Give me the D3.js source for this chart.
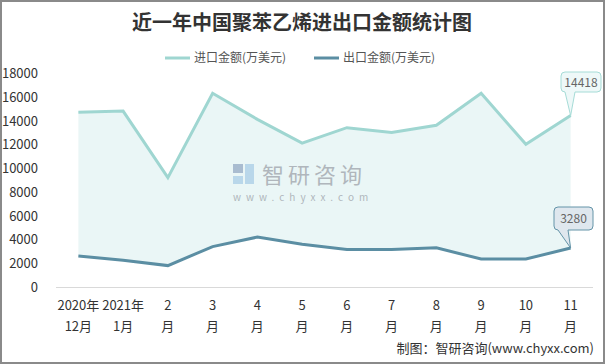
<!DOCTYPE html>
<html><head><meta charset="utf-8">
<script src="https://cdn.jsdelivr.net/npm/d3@7"></script>
<style>
html,body{margin:0;padding:0;background:#fff;}
svg{display:block;}
text{font-family:"Noto Sans CJK SC","Microsoft YaHei",sans-serif;}
</style></head>
<body>
<svg id="chart" width="605" height="364"></svg>
<script>
const catLine1 = ["2020年","2021年","2","3","4","5","6","7","8","9","10","11"];
const catLine2 = ["12月","1月","月","月","月","月","月","月","月","月","月","月"];
const importValues = [14700, 14800, 9200, 16300, 14100, 12100, 13400, 13000, 13600, 16300, 12000, 14418];
const exportValues = [2600, 2250, 1800, 3400, 4200, 3600, 3150, 3150, 3300, 2350, 2350, 3280];
const yTicks = [0,2000,4000,6000,8000,10000,12000,14000,16000,18000];
const seriesNames = ["进口金额(万美元)","出口金额(万美元)"];

const svg = d3.select("#chart");
const W = 605, H = 364;
const importColor = "#9fd6d1", exportColor = "#5b8ea3", fillColor = "#eaf6f6";

svg.append("rect").attr("x",1).attr("y",1).attr("width",W-2).attr("height",H-2)
  .attr("fill","#fff").attr("stroke","#8a8a8a").attr("stroke-width",2);

svg.append("text").attr("x",302).attr("y",30).attr("text-anchor","middle")
  .attr("font-size",20).attr("font-weight","bold").attr("fill","#333")
  .text("近一年中国聚苯乙烯进出口金额统计图");

// legend
const legend = [{x:165,c:importColor,t:seriesNames[0]},{x:314,c:exportColor,t:seriesNames[1]}];
legend.forEach(l=>{
  svg.append("line").attr("x1",l.x).attr("x2",l.x+25).attr("y1",58).attr("y2",58)
    .attr("stroke",l.c).attr("stroke-width",3);
  svg.append("text").attr("x",l.x+29).attr("y",62).attr("font-size",12).attr("fill","#555").text(l.t);
});

const x = d3.scaleBand().domain(d3.range(12)).range([56,593]);
const y = d3.scaleLinear().domain([0,18000]).range([287,73]);
const cx = i => x(i)+x.bandwidth()/2;

// area between lines
const area = d3.area().x((d,i)=>cx(i)).y0((d,i)=>y(exportValues[i])).y1(d=>y(d));
svg.append("path").datum(importValues).attr("d",area).attr("fill",fillColor);

// watermark
const wm = svg.append("g");
wm.append("rect").attr("x",233).attr("y",164).attr("width",10).attr("height",9).attr("fill","#a9bcd0");
wm.append("rect").attr("x",245).attr("y",164).attr("width",9).attr("height",20).attr("fill","#b9d7ea");
wm.append("rect").attr("x",233).attr("y",176).attr("width",10).attr("height",8).attr("fill","#b9d7ea");
wm.append("text").attr("x",262).attr("y",183).attr("font-size",22).attr("fill","#b0b6bc").attr("letter-spacing",4).text("智研咨询");
wm.append("text").attr("x",233).attr("y",201).attr("font-size",10).attr("fill","#b0b6bc").attr("letter-spacing",5).text("www.chyxx.com");

// axis
svg.append("line").attr("x1",56).attr("x2",593).attr("y1",287.5).attr("y2",287.5).attr("stroke","#d9d9d9").attr("stroke-width",1);

// y tick labels
svg.selectAll(".yt").data(yTicks).enter().append("text")
  .attr("x",38).attr("y",d=>y(d)+5).attr("text-anchor","end").attr("font-size",13).attr("fill","#333").text(d=>d);

// x labels
catLine1.forEach((t,i)=>{
  svg.append("text").attr("x",cx(i)).attr("y",310).attr("text-anchor","middle").attr("font-size",13).attr("fill","#333").text(t);
  svg.append("text").attr("x",cx(i)).attr("y",331).attr("text-anchor","middle").attr("font-size",13).attr("fill","#333").text(catLine2[i]);
});

const line = d3.line().x((d,i)=>cx(i)).y(d=>y(d));
svg.append("path").datum(importValues).attr("d",line).attr("fill","none").attr("stroke",importColor).attr("stroke-width",3);
svg.append("path").datum(exportValues).attr("d",line).attr("fill","none").attr("stroke",exportColor).attr("stroke-width",3);

// callouts
function callout(px,py,bx,by,bw,bh,fill,stroke,txt){
  const r=4, tipL=bx+4, tipR=bx+14;
  const p = `M${bx+r},${by} H${bx+bw-r} Q${bx+bw},${by} ${bx+bw},${by+r} V${by+bh-r} Q${bx+bw},${by+bh} ${bx+bw-r},${by+bh} H${tipR} L${px},${py} L${tipL},${by+bh} H${bx+r} Q${bx},${by+bh} ${bx},${by+bh-r} V${by+r} Q${bx},${by} ${bx+r},${by} Z`;
  svg.append("path").attr("d",p).attr("fill",fill).attr("stroke",stroke).attr("stroke-width",1);
  svg.append("text").attr("x",bx+bw/2).attr("y",by+bh/2+4.5).attr("text-anchor","middle").attr("font-size",12).attr("fill","#666").text(txt);
}
const last = 11;
callout(cx(last), y(importValues[last]), 561, 72, 40, 20, "#eef8f8", "#a6dcd7", importValues[last]);
callout(cx(last), y(exportValues[last]), 554, 207, 39, 23, "#dfe7ee", "#6494a8", exportValues[last]);

// source
svg.append("text").attr("x",594).attr("y",353).attr("text-anchor","end").attr("font-size",13).attr("fill","#333").text("制图：智研咨询(www.chyxx.com)");
</script>
</body></html>
